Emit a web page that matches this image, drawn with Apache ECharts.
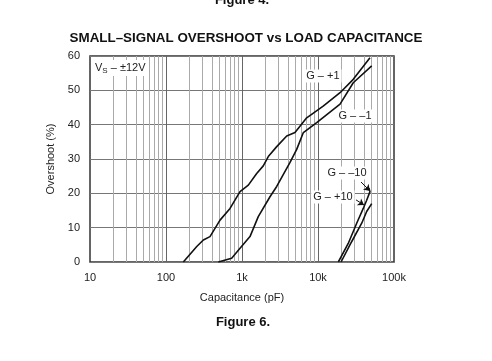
<!DOCTYPE html>
<html><head><meta charset="utf-8">
<script src="https://cdn.jsdelivr.net/npm/echarts@6/dist/echarts.min.js"></script>
<style>html,body{margin:0;padding:0;background:#fff}#c{width:492px;height:361px}</style>
</head><body><div id="c"></div>
<script>
// Data
const xTickLabels = {10:'10',100:'100',1000:'1k',10000:'10k',100000:'100k'};
const yTicks = [0,10,20,30,40,50,60];
const capGp1 = [169,254,310,379,514,696,942,1211,1560,1905,2218,2863,3875,4980,7100,11700,19500,29100,48300];
const ovGp1  = [0,4.5,6.4,7.4,12.2,15.6,20.5,22.4,25.8,28,30.7,33.6,36.7,37.7,42,45.4,49.3,53.2,59.5];
const capGm1 = [488,731,942,1274,1637,2334,2863,4285,5245,6417,9615,19500,29100,50900];
const ovGm1  = [0,1.1,4,7.4,13.2,19,22,29,32.8,37.7,40.6,46,52.2,57.1];
const capGm10 = [18500,25000,32300,39400,43700,48300,46800];
const ovGm10  = [0,5.4,11.3,15.6,18,20.5,21.5];
const capGp10 = [20100,27700,37600,43700,50900];
const ovGp10  = [0,5.9,11.3,14.7,17];
const minorGrid = [20,30,40,50,60,70,80,90,200,300,400,500,600,700,800,900,2000,3000,4000,5000,6000,7000,8000,9000,20000,30000,40000,50000,60000,70000,80000,90000];
const majorGrid = [100,1000,10000];
const labels = [
  {name:'G – +1', coord:[11600,54.2]},
  {name:'G – –1', coord:[30700,42.5]},
  {name:'G – –10', coord:[24100,25.9]},
  {name:'G – +10', coord:[15700,18.9]}
];
const arrows = [
  [[36800,23.3],[48300,20.7]],
  [[31600,18.1],[40300,16.6]]
];

const zip = (a,b)=>a.map((v,i)=>[v,b[i]]);
const lineStyle = {color:'#111', width:1.6};
const font = 'Liberation Sans, Arial, sans-serif';

const chart = echarts.init(document.getElementById('c'), null, {renderer:'canvas'});
chart.setOption({
  animation:false,
  backgroundColor:'#fff',
  title:[
    {text:'Figure 4.', left:237, textAlign:'center', top:-11, textStyle:{fontFamily:font,fontSize:13,fontWeight:'bold',color:'#111'}},
    {text:'SMALL–SIGNAL OVERSHOOT vs LOAD CAPACITANCE', left:241, textAlign:'center', top:27, textStyle:{fontFamily:font,fontSize:13.4,fontWeight:'bold',color:'#111'}},
    {text:'Figure 6.', left:238, textAlign:'center', top:311, textStyle:{fontFamily:font,fontSize:13,fontWeight:'bold',color:'#111'}}
  ],
  grid:{left:90, right:98, top:56, bottom:99, show:true, borderColor:'#333', borderWidth:1.5},
  xAxis:{type:'log', logBase:10, min:10, max:100000,
    name:'Capacitance (pF)', nameLocation:'middle', nameGap:30,
    nameTextStyle:{fontFamily:font,fontSize:11,color:'#222'},
    axisLine:{show:false}, axisTick:{show:false},
    axisLabel:{fontFamily:font,fontSize:11,color:'#222',margin:10,formatter:v=>xTickLabels[v]||''},
    splitLine:{show:false}},
  yAxis:{type:'value', min:0, max:60, interval:10,
    name:'Overshoot (%)', nameLocation:'middle', nameGap:34,
    nameTextStyle:{fontFamily:font,fontSize:11,color:'#222'},
    axisLine:{show:false}, axisTick:{show:false},
    axisLabel:{fontFamily:font,fontSize:11,color:'#222',margin:10},
    splitLine:{show:true,lineStyle:{color:'#777',width:1}}},
  series:[
    {type:'line', data:[], silent:true,
      markLine:{silent:true, symbol:'none', label:{show:false},
        data:[...minorGrid.map(v=>({xAxis:v, lineStyle:{color:'#aaa',width:1,type:'solid'}})),
              ...majorGrid.map(v=>({xAxis:v, lineStyle:{color:'#666',width:1,type:'solid'}}))]}},
    {type:'line', data:zip(capGp1,ovGp1), showSymbol:false, lineStyle, z:5},
    {type:'line', data:zip(capGm1,ovGm1), showSymbol:false, lineStyle, z:5},
    {type:'line', data:zip(capGm10,ovGm10), showSymbol:false, lineStyle, z:5},
    {type:'line', data:zip(capGp10,ovGp10), showSymbol:false, lineStyle, z:5,
      markLine:{silent:true, symbol:['none','arrow'], symbolSize:6, label:{show:false},
        lineStyle:{color:'#111',width:1,type:'solid'},
        data:arrows.map(a=>[{coord:a[0]},{coord:a[1]}])}},
    {type:'line', data:[], z:10,
      markPoint:{silent:true, symbol:'rect', symbolSize:0,
        label:{show:true, position:'inside', fontFamily:font, fontSize:11, color:'#222',
          backgroundColor:'#fff', padding:[1,2], formatter:p=>p.name},
        data:[...labels,
          {name:'vs', coord:[25,56.5], label:{formatter:'{a|V}{s|S}{a| – ±12V}', rich:{a:{fontFamily:font,fontSize:11,color:'#222'},s:{fontFamily:font,fontSize:8,color:'#222',verticalAlign:'bottom',padding:[6,0,0,0]}}}}]}}
  ]
});
</script></body></html>
